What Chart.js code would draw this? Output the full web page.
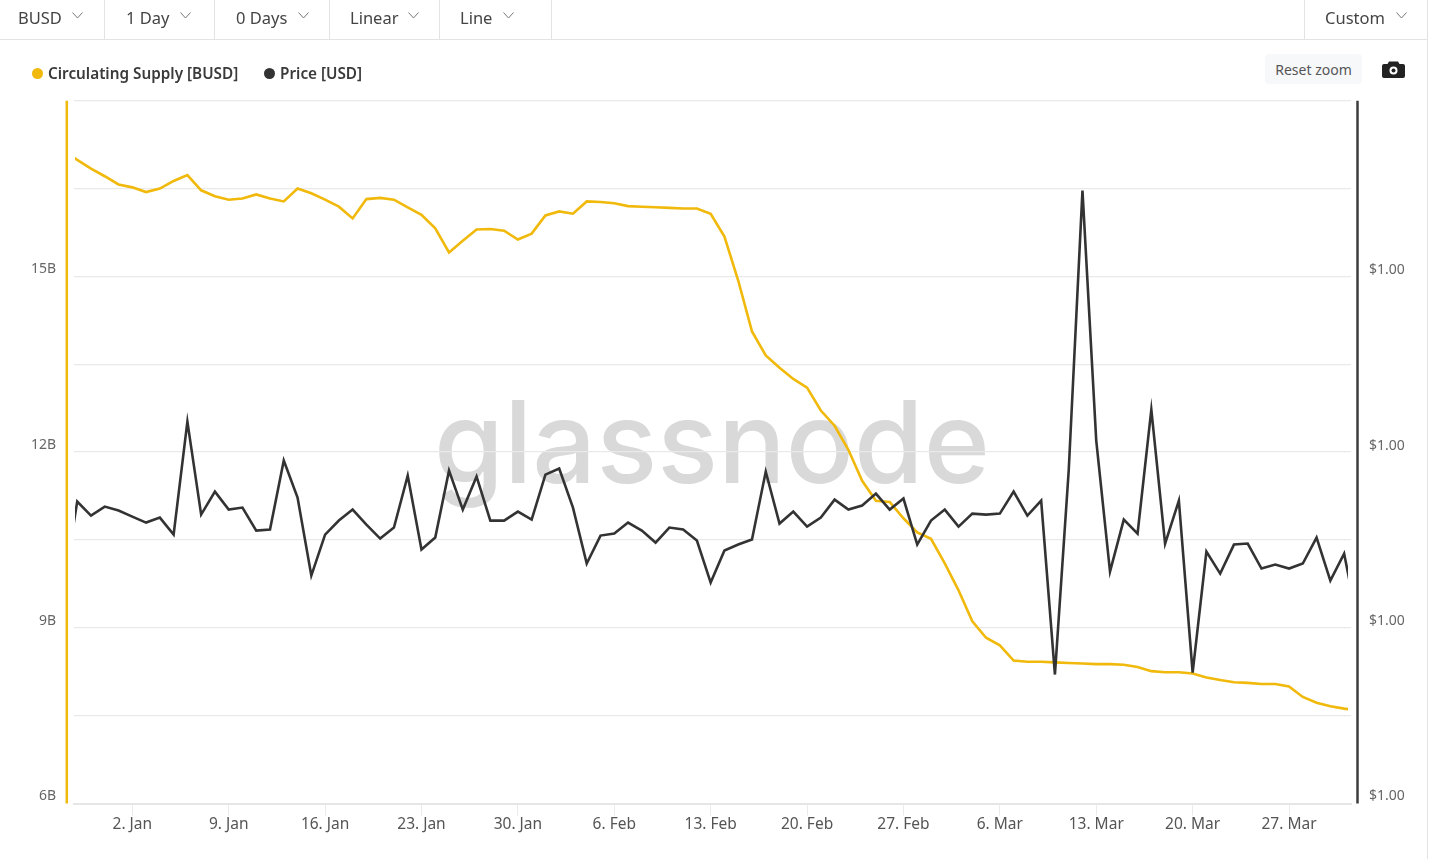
<!DOCTYPE html>
<html>
<head>
<meta charset="utf-8">
<title>BUSD</title>
<script src="https://cdn.jsdelivr.net/npm/chart.js@4/dist/chart.umd.min.js"></script>
<style>
html, body { margin: 0; padding: 0; background: #fff; width: 1429px; height: 859px; overflow: hidden; font-family: "Noto Sans", sans-serif; }
#graph { position: absolute; left: 0; top: 0; }
#toolbar { position: absolute; left: 0; top: 0; width: 1427px; height: 39px; border-bottom: 1px solid #e3e3e3; }
.sel { position: absolute; top: 0; height: 39px; line-height: 35px; font-size: 16.5px; color: #444; }
.sep { position: absolute; top: 0; width: 1px; height: 39px; background: #e3e3e3; }
#edge { position: absolute; left: 1427px; top: 0; width: 1px; height: 859px; background: #e3e3e3; }
#legend span.item { position: absolute; top: 62px; line-height: 22px; font-size: 15.3px; font-weight: 600; color: #3a3a3a; white-space: nowrap; }
#legend i { position: absolute; top: 68px; width: 11px; height: 11px; border-radius: 50%; }
#reset { position: absolute; left: 1265px; top: 54px; width: 97px; height: 30px; line-height: 32px; text-align: center; background: #f7f8fa; border-radius: 4px; font-size: 14px; color: #555; }
#camera { position: absolute; left: 1382px; top: 60px; }
</style>
</head>
<body>
<canvas id="graph" width="1429" height="859"></canvas>
<div id="toolbar"></div>
<div id="edge"></div>
<div id="legend"></div>
<div id="reset">Reset zoom</div>
<svg id="camera" width="23" height="19" viewBox="0 0 23 19"><path fill="#222" d="M7 1.500h9l1.500 2.500H21a2 2 0 0 1 2 2v10a2 2 0 0 1-2 2H2a2 2 0 0 1-2-2V6a2 2 0 0 1 2-2h3.500z"/><circle cx="11.500" cy="10.500" r="4" fill="#fff"/><circle cx="11.500" cy="10.500" r="2" fill="#222"/></svg>
<script>
/* donnees */
var days = [-5,-4,-3,-2,-1,0,1,2,3,4,5,6,7,8,9,10,11,12,13,14,15,16,17,18,19,20,21,22,23,24,25,26,27,28,29,30,31,32,33,34,35,36,37,38,39,40,41,42,43,44,45,46,47,48,49,50,51,52,53,54,55,56,57,58,59,60,61,62,63,64,65,66,67,68,69,70,71,72,73,74,75,76,77,78,79,80,81,82,83,84,85,86,87,88,89];

var supply = [17.15,16.99,16.84,16.71,16.57,16.52,16.44,16.50,16.63,16.73,16.47,16.37,16.31,16.33,16.40,16.33,16.28,16.50,16.42,16.31,16.19,15.99,16.32,16.34,16.31,16.18,16.05,15.82,15.41,15.61,15.80,15.81,15.78,15.63,15.73,16.04,16.11,16.07,16.28,16.27,16.25,16.20,16.19,16.18,16.17,16.16,16.16,16.07,15.68,14.93,14.06,13.65,13.44,13.25,13.10,12.71,12.45,12.04,11.51,11.17,11.15,10.87,10.63,10.52,10.10,9.64,9.11,8.83,8.70,8.44,8.42,8.42,8.41,8.40,8.39,8.38,8.38,8.37,8.33,8.26,8.24,8.24,8.22,8.15,8.11,8.07,8.06,8.04,8.04,8.00,7.82,7.72,7.66,7.62,7.59];

var price = [0.99865,0.99951,0.99937,0.99946,0.99942,0.99936,0.99930,0.99935,0.99918,1.00031,0.99938,0.99961,0.99943,0.99945,0.99922,0.99923,0.99992,0.99955,0.99877,0.99918,0.99932,0.99943,0.99928,0.99914,0.99925,0.99977,0.99903,0.99915,0.99982,0.99943,0.99976,0.99932,0.99932,0.99941,0.99933,0.99978,0.99984,0.99945,0.99889,0.99917,0.99919,0.99930,0.99922,0.99910,0.99925,0.99923,0.99912,0.99870,0.99902,0.99908,0.99913,0.99981,0.99929,0.99941,0.99926,0.99935,0.99953,0.99943,0.99947,0.99959,0.99943,0.99954,0.99908,0.99932,0.99943,0.99926,0.99939,0.99938,0.99939,0.99961,0.99937,0.99952,0.99778,0.99982,1.00262,1.00012,0.99881,0.99933,0.99919,1.00043,0.99909,0.99952,0.99780,0.99901,0.99879,0.99908,0.99909,0.99884,0.99888,0.99884,0.99889,0.99915,0.99872,0.99899,0.99829];

var xTickDays = [0,7,14,21,28,35,42,49,56,63,70,77,84];
var xTickLabels = ['2. Jan','9. Jan','16. Jan','23. Jan','30. Jan','6. Feb','13. Feb','20. Feb','27. Feb','6. Mar','13. Mar','20. Mar','27. Mar'];
var supplyTicks = [6,7.5,9,10.5,12,13.5,15,16.5,18];
var supplyLabels = ['6B','','9B','','12B','','15B','',''];
var priceTicks = [0.99649,0.99737,0.99825,0.99912,1.00000,1.00088,1.00176,1.00264,1.00352];
var priceLabels = ['$1.00','','$1.00','','$1.00','','$1.00','',''];
var seriesNames = ['Circulating Supply [BUSD]','Price [USD]'];
var seriesColors = ['#f0b90b','#333333'];
var menus = ['BUSD','1 Day','0 Days','Linear','Line','Custom'];

/* barre du haut */
var toolbar = document.getElementById('toolbar');
var menuX = [18,126,236,350,460,1325], chevX = [72,180,298,408,503,1396], sepX = [104,214,329,439,551,1304];
menus.forEach(function (m, i) {
  var d = document.createElement('div');
  d.className = 'sel';
  d.style.left = menuX[i] + 'px';
  d.textContent = m;
  toolbar.appendChild(d);
  var c = document.createElementNS('http://www.w3.org/2000/svg', 'svg');
  c.setAttribute('width', '11'); c.setAttribute('height', '7');
  c.style.cssText = 'position:absolute;left:' + chevX[i] + 'px;top:12px';
  c.innerHTML = '<path d="M0.500 0.500L5.500 6L10.500 0.500" fill="none" stroke="#777" stroke-width="1"/>';
  toolbar.appendChild(c);
  var s = document.createElement('div');
  s.className = 'sep';
  s.style.left = sepX[i] + 'px';
  toolbar.appendChild(s);
});

/* legende */
var legend = document.getElementById('legend');
var dotX = [32,264], textX = [48,280];
seriesNames.forEach(function (n, i) {
  legend.insertAdjacentHTML('beforeend', '<i style="left:' + dotX[i] + 'px;background:' + seriesColors[i] + '"></i><span class="item" style="left:' + textX[i] + 'px">' + n + '</span>');
});

const axisLines = {
  id: 'axisLines',
  beforeDraw: function (chart) { // filigrane derriere la grille
    var ctx = chart.ctx;
    ctx.save();
    ctx.font = '500 114px Inter';
    ctx.fillStyle = '#d9d9d9';
    ctx.textAlign = 'left';
    ctx.textBaseline = 'alphabetic';
    ctx.fillText('glassnode', 434, 483, 556);
    ctx.restore();
  },
  afterDraw: function (chart) {
    var ctx = chart.ctx, a = chart.chartArea;
    ctx.save();
    ctx.lineWidth = 2.5;
    ctx.strokeStyle = seriesColors[0];
    ctx.beginPath(); ctx.moveTo(a.left - 7.2, a.top); ctx.lineTo(a.left - 7.2, a.bottom); ctx.stroke();
    ctx.strokeStyle = '#3d3d3d';
    ctx.beginPath(); ctx.moveTo(a.right + 6.5, a.top); ctx.lineTo(a.right + 6.5, a.bottom); ctx.stroke();
    ctx.restore();
  }
};

const options = {
  responsive: false,
  animation: false,
  layout: { padding: { top: 100.7, left: 0, right: 0, bottom: 0 } },
  plugins: { legend: { display: false }, tooltip: { enabled: false } },
  scales: {
    x: {
      type: 'linear',
      min: -4.234,
      max: 88.5,
      afterBuildTicks: function (s) { s.ticks = xTickDays.map(function (v) { return { value: v }; }); },
      afterFit: function (s) { s.height = 55.5; },
      grid: { drawOnChartArea: false, color: '#ebebeb', tickLength: 12 },
      border: { color: '#e6e6e6', width: 2 },
      ticks: {
        autoSkip: false,
        maxRotation: 0,
        padding: 0,
        color: '#555',
        font: { family: 'Noto Sans', size: 15.5 },
        callback: function (v) { return xTickLabels[xTickDays.indexOf(v)]; }
      }
    },
    y: {
      position: 'left',
      min: 6,
      max: 18,
      afterBuildTicks: function (s) { s.ticks = supplyTicks.map(function (v) { return { value: v }; }); },
      afterFit: function (s) { s.width = 74; },
      grid: { color: '#e9e9e9', lineWidth: 1.3, drawTicks: false },
      border: { display: false },
      ticks: {
        padding: 18,
        labelOffset: -7,
        color: '#666',
        font: { family: 'Noto Sans', size: 14 },
        callback: function (v) { return supplyLabels[supplyTicks.indexOf(v)]; }
      }
    },
    yPrice: {
      position: 'right',
      min: 0.99649,
      max: 1.00352,
      afterBuildTicks: function (s) { s.ticks = priceTicks.map(function (v) { return { value: v }; }); },
      afterFit: function (s) { s.width = 78; },
      grid: { display: false },
      border: { display: false },
      ticks: {
        padding: 10,
        labelOffset: -7,
        color: '#666',
        font: { family: 'Noto Sans', size: 14 },
        callback: function (v) { return priceLabels[priceTicks.indexOf(v)]; }
      }
    }
  }
};

const chartBusd = new Chart(document.getElementById('graph').getContext('2d'), {
  type: 'line',
  data: {
    datasets: [
      {
        label: seriesNames[0],
        yAxisID: 'y',
        order: 2,
        data: days.map(function (d, i) { return { x: d, y: supply[i] }; }),
        borderColor: seriesColors[0],
        borderWidth: 2.6,
        pointRadius: 0,
        tension: 0,
        clip: { left: -1, right: -3, top: 0, bottom: 0 }
      },
      {
        label: seriesNames[1],
        yAxisID: 'yPrice',
        order: 1,
        data: days.map(function (d, i) { return { x: d, y: price[i] }; }),
        borderColor: seriesColors[1],
        borderWidth: 2.6,
        pointRadius: 0,
        tension: 0,
        clip: { left: -1, right: -3, top: 0, bottom: 0 }
      }
    ]
  },
  options: options,
  plugins: [axisLines]
});
</script>
</body>
</html>
